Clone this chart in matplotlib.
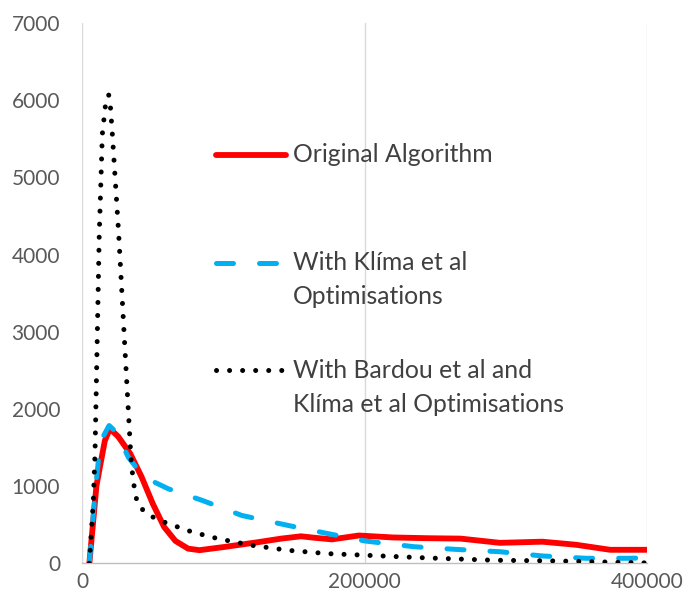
import matplotlib
matplotlib.use('Agg')
import matplotlib.pyplot as plt
from matplotlib.lines import Line2D

plt.rcParams['font.family'] = ['Lato', 'DejaVu Sans']

# Original algorithm
orig_x = [5000, 10000, 12500, 16000, 19600, 25500, 34000, 42000, 50000, 58000, 66000, 75000,
          83000, 100000, 125000, 141000, 155000, 165000, 177000, 196000, 220000, 245000,
          268000, 296000, 326000, 350000, 374000, 400000]
orig_y = [0, 1000, 1250, 1590, 1745, 1640, 1420, 1120, 770, 470, 290, 190,
          170, 210, 275, 320, 350, 330, 310, 360, 335, 325,
          320, 265, 280, 240, 175, 175]

# With Klima et al optimisations
klima_x = [5000, 9000, 11400, 15000, 19000, 24000, 32600, 40000, 49000, 61000, 85000, 113000,
           146000, 174000, 200000, 235000, 265000, 296000, 326000, 357000, 387000, 400000]
klima_y = [0, 900, 1330, 1650, 1785, 1700, 1375, 1200, 1070, 965, 815, 620,
           490, 385, 290, 215, 180, 150, 95, 65, 65, 70]

# With Bardou et al and Klima et al optimisations
bardou_x = [5000, 7800, 9000, 12000, 14200, 16500, 18700, 20000, 21300, 25800, 30000, 34300,
            35000, 37400, 39700, 45700, 53000, 61000, 78000, 96000, 120000, 146000, 174000,
            200000, 244000, 291000, 338000, 400000]
bardou_y = [0, 800, 1420, 4250, 5560, 5950, 6070, 5900, 5560, 4265, 2850, 1420,
            1246, 900, 750, 643, 570, 513, 405, 320, 233, 168, 125,
            105, 70, 40, 30, 5]

x_ticks = [0, 200000, 400000]
y_ticks = [0, 1000, 2000, 3000, 4000, 5000, 6000, 7000]

labels = ['Original Algorithm', 'With Klíma et al\nOptimisations',
          'With Bardou et al and\nKlíma et al Optimisations']

W, H = 684, 606
fig = plt.figure(figsize=(W / 100, H / 100), dpi=100)
ax = fig.add_axes([82.3 / W, 1 - 563.3 / H, (646.7 - 82.3) / W, (563.3 - 23) / H])

red = '#FF0000'
blue = '#00B0F0'
dot_style = (0, (0.01, 2.6))
dash_style = (0, (3.4, 5.2))

ax.plot(orig_x, orig_y, color=red, lw=4.2, solid_capstyle='round', solid_joinstyle='round', zorder=3)
ax.plot(klima_x, klima_y, color=blue, lw=3.6, linestyle=dash_style,
        dash_capstyle='round', dash_joinstyle='round', zorder=4)
ax.plot(bardou_x, bardou_y, color='black', lw=3.6, linestyle=dot_style,
        dash_capstyle='round', zorder=5)

ax.set_xlim(0, 400000)
ax.set_ylim(0, 7000)
ax.set_xticks(x_ticks)
ax.set_yticks(y_ticks)
ax.set_xticklabels([str(v) for v in x_ticks])
ax.set_yticklabels([str(v) for v in y_ticks])
ax.tick_params(axis='both', length=0, labelsize=15, colors='#595959')
ax.tick_params(axis='y', pad=16)
ax.tick_params(axis='x', pad=6)
for s in ax.spines.values():
    s.set_visible(False)
ax.spines['bottom'].set_visible(True)
ax.spines['bottom'].set_color('#BFBFBF')
ax.spines['bottom'].set_linewidth(1.0)
ax.grid(axis='x', color='#D9D9D9', lw=1.0)
ax.grid(axis='y', visible=False)
ax.set_axisbelow(True)

# legend drawn Excel-style: marker on first text line
leg_y = [155, 263, 370]
styles = [dict(color=red, lw=4.2, solid_capstyle='round'),
          dict(color=blue, lw=3.6, linestyle=dash_style, dash_capstyle='round'),
          dict(color='black', lw=3.6, linestyle=dot_style, dash_capstyle='round')]
for yy, st, lab in zip(leg_y, styles, labels):
    fy = 1 - yy / H
    fig.add_artist(Line2D([216 / W, 286 / W], [fy, fy], transform=fig.transFigure, **st))
    for i, line in enumerate(lab.split('\n')):
        fig.text(293 / W, 1 - (yy + 34 * i) / H, line, fontsize=17.8, color='#404040',
                 ha='left', va='center')

fig.savefig('out.png', dpi=100)
